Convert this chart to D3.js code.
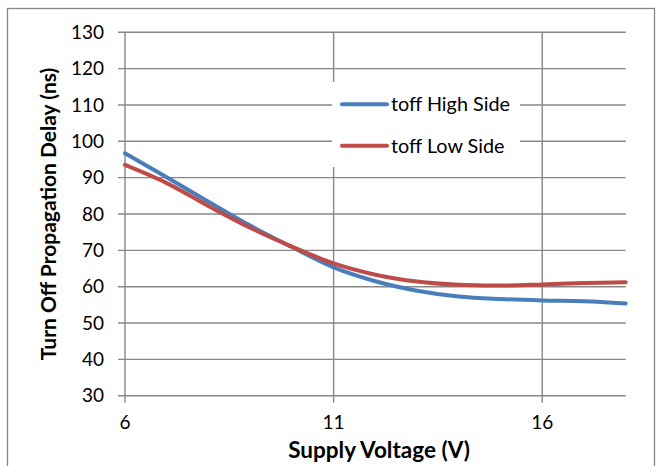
<!DOCTYPE html>
<html>
<head>
<meta charset="utf-8">
<script src="https://cdn.jsdelivr.net/npm/d3@7/dist/d3.min.js"></script>
<style>
  html, body { margin: 0; padding: 0; background: #fff; }
  svg { display: block; }
  text { font-family: Lato, "Open Sans", sans-serif; fill: #000; }
</style>
</head>
<body>
<svg id="chart" width="656" height="466"></svg>
<script>
// ---- data ----
const voltage = [6, 7, 8, 9, 10, 11, 12, 13, 14, 15, 16, 17, 18];
const highSide = [96.7, 90.1, 83.4, 76.8, 70.9, 65.3, 61.5, 58.9, 57.3, 56.6, 56.2, 56.0, 55.4];
const lowSide  = [93.5, 88.5, 82.2, 76.2, 71.0, 66.4, 63.3, 61.4, 60.5, 60.3, 60.6, 61.0, 61.2];
const xTicks = [6, 11, 16];
const yTicks = [30, 40, 50, 60, 70, 80, 90, 100, 110, 120, 130];
const seriesNames = ["toff High Side", "toff Low Side"];
const seriesColors = ["#4a7ebb", "#be4b48"];
const xTitle = "Supply Voltage (V)";
const yTitle = "Turn Off Propagation Delay (ns)";

// ---- layout ----
const svg = d3.select("#chart");
const L = 125, R = 625.7, T = 32.3, B = 395.7;
const x = d3.scaleLinear().domain([6, 18]).range([L, R]);
const y = d3.scaleLinear().domain([30, 130]).range([B, T]);
const grid = "#878787";

// outer border
svg.append("rect").attr("x", 7.5).attr("y", 8.5).attr("width", 647).attr("height", 470)
  .attr("fill", "none").attr("stroke", "#868686").attr("stroke-width", 1.3);

// horizontal gridlines
svg.append("g").selectAll("line").data(yTicks).join("line")
  .attr("x1", L - 7).attr("x2", R)
  .attr("y1", d => y(d)).attr("y2", d => y(d))
  .attr("stroke", grid).attr("stroke-width", 1.4);

// vertical gridlines
svg.append("g").selectAll("line").data(xTicks).join("line")
  .attr("x1", d => x(d)).attr("x2", d => x(d))
  .attr("y1", T).attr("y2", B + 7)
  .attr("stroke", grid).attr("stroke-width", 1.4);

// y tick labels
svg.append("g").selectAll("text").data(yTicks).join("text")
  .attr("x", 104).attr("y", d => y(d)).attr("dy", "0.35em")
  .attr("text-anchor", "end").attr("font-size", 19)
  .text(d => d);

// x tick labels
svg.append("g").selectAll("text").data(xTicks).join("text")
  .attr("x", d => x(d)).attr("y", 429)
  .attr("text-anchor", "middle").attr("font-size", 19)
  .text(d => d);

// axis titles
svg.append("text").attr("x", 379).attr("y", 458).attr("text-anchor", "middle")
  .attr("font-size", 22.5).attr("font-weight", "bold").text(xTitle);
svg.append("text").attr("transform", "translate(56,214) rotate(-90)")
  .attr("text-anchor", "middle").attr("font-size", 21).attr("font-weight", "bold").text(yTitle);

// lines
const line = d3.line().x(d => x(d[0])).y(d => y(d[1])).curve(d3.curveCatmullRom.alpha(0.5));
const series = [highSide, lowSide];
series.forEach((vals, i) => {
  svg.append("path")
    .datum(voltage.map((v, j) => [v, vals[j]]))
    .attr("d", line)
    .attr("fill", "none")
    .attr("stroke", seriesColors[i])
    .attr("stroke-width", 4)
    .attr("stroke-linecap", "round");
});

// legend
const lg = svg.append("g");
lg.append("rect").attr("x", 332).attr("y", 82).attr("width", 188).attr("height", 85).attr("fill", "#fff");
const legY = [104.3, 145.7];
seriesNames.forEach((name, i) => {
  lg.append("line").attr("x1", 342).attr("x2", 387).attr("y1", legY[i]).attr("y2", legY[i])
    .attr("stroke", seriesColors[i]).attr("stroke-width", 4).attr("stroke-linecap", "round");
  lg.append("text").attr("x", 391).attr("y", legY[i]).attr("dy", "0.35em")
    .attr("font-size", 19.8).text(name);
});
</script>
</body>
</html>
